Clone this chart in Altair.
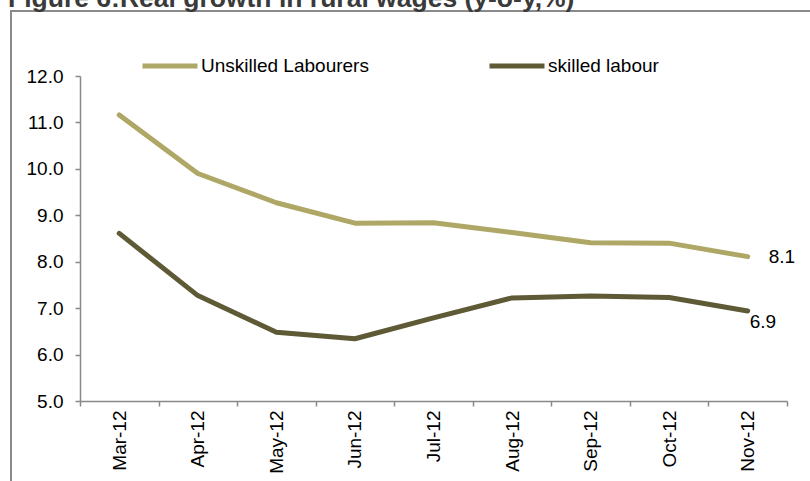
import altair as alt
import pandas as pd

months = ["Mar-12", "Apr-12", "May-12", "Jun-12", "Jul-12", "Aug-12", "Sep-12", "Oct-12", "Nov-12"]
unskilled = [11.16, 9.90, 9.27, 8.83, 8.84, 8.63, 8.41, 8.40, 8.11]
skilled = [8.61, 7.27, 6.48, 6.34, 6.79, 7.22, 7.26, 7.23, 6.94]
series_names = ["Unskilled Labourers", "skilled labour"]
colors = ["#AFA766", "#5E5A35"]
y_ticks = [5, 6, 7, 8, 9, 10, 11, 12]
title_text = "Figure 6:Real growth in rural wages (y-o-y,%)"

rows = []
for name, vals in zip(series_names, [unskilled, skilled]):
    for m, v in zip(months, vals):
        rows.append({"month": m, "value": v, "series": name})
df = pd.DataFrame(rows)

FONT = "Liberation Sans"
FS = 19

x_enc = alt.X(
    "month:N",
    sort=months,
    scale=alt.Scale(type="band", paddingInner=0, paddingOuter=0),
    axis=alt.Axis(title=None, labelAngle=-90, tickBand="extent", tickSize=5,
                  labelPadding=4, labelFontSize=FS),
)
y_enc = alt.Y(
    "value:Q",
    scale=alt.Scale(domain=[5, 12], nice=False, zero=False),
    axis=alt.Axis(title=None, values=y_ticks, format=".1f", grid=False, tickSize=5,
                  labelPadding=12, labelFontSize=FS),
)
color_enc = alt.Color(
    "series:N",
    scale=alt.Scale(domain=series_names, range=colors),
    legend=alt.Legend(
        title=None, orient="none", legendX=60, legendY=-40, direction="horizontal",
        columns=2, symbolType="stroke", symbolSize=3025, symbolStrokeWidth=5,
        labelFontSize=FS, labelFont=FONT, labelColor="black", labelOffset=1,
        columnPadding=110, labelLimit=400,
    ),
)

base = alt.Chart(df)
lines = base.mark_line(strokeWidth=5, strokeCap="round", strokeJoin="round").encode(
    x=x_enc, y=y_enc, color=color_enc
)

last = months[-1]
lab_u = base.transform_filter(
    (alt.datum.month == last) & (alt.datum.series == series_names[0])
).mark_text(align="left", baseline="middle", dx=21, fontSize=FS, font=FONT, color="black").encode(
    x=alt.X("month:N", sort=months), y="value:Q", text=alt.Text("value:Q", format=".1f")
)
lab_s = base.transform_filter(
    (alt.datum.month == last) & (alt.datum.series == series_names[1])
).mark_text(align="left", baseline="middle", dx=2, dy=11, fontSize=FS, font=FONT, color="black").encode(
    x=alt.X("month:N", sort=months), y="value:Q", text=alt.Text("value:Q", format=".1f")
)

frame = alt.Chart(pd.DataFrame({"a": [0]})).mark_rect(
    filled=False, stroke="#8a8a8a", strokeWidth=2
).encode(x=alt.value(-69), x2=alt.value(760), y=alt.value(-65), y2=alt.value(420))

title = alt.Chart(pd.DataFrame({"t": [title_text]})).mark_text(
    align="left", baseline="alphabetic", fontSize=26.5, fontWeight="bold", font=FONT, color="#3a3a3a"
).encode(x=alt.value(-72), y=alt.value(-69), text="t:N")

chart = alt.layer(frame, title, lines, lab_u, lab_s).properties(
    width=707, height=325,
    autosize=alt.AutoSizeParams(type="none"),
    padding={"left": 80, "top": 76, "right": 23, "bottom": 80},
).configure_view(stroke=None).configure_axis(
    labelFont=FONT, labelColor="black", domainColor="#888888", tickColor="#888888",
    domainWidth=1.5, tickWidth=1.5,
)

chart.save("out.html", embed_options={"renderer": "svg", "actions": False})
